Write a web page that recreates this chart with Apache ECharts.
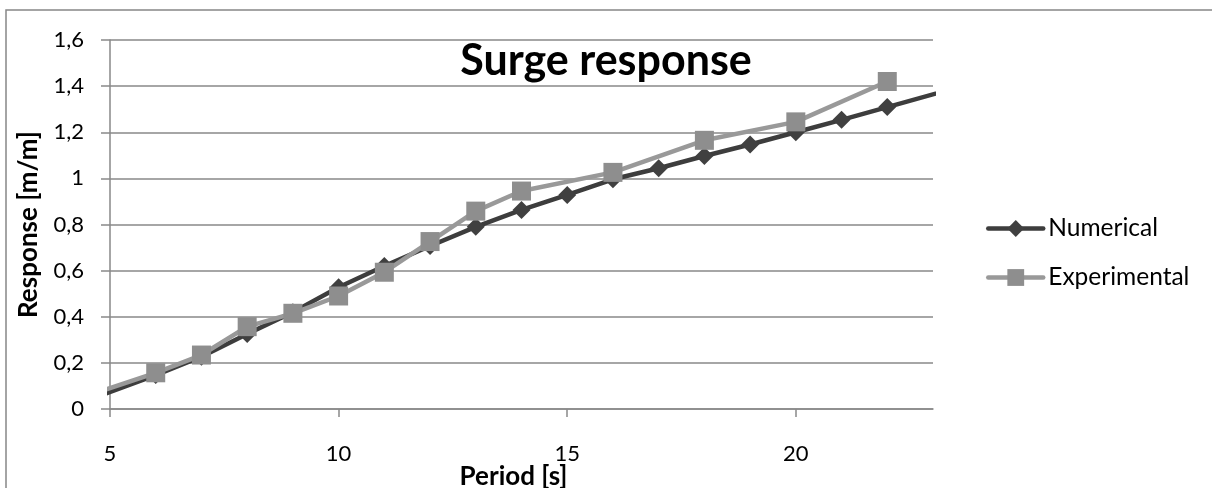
<!DOCTYPE html>
<html>
<head>
<meta charset="utf-8">
<title>Surge response</title>
<script src="https://cdn.jsdelivr.net/npm/echarts@6/dist/echarts.min.js"></script>
<style>
  html, body { margin: 0; padding: 0; background: #ffffff; }
  #chart { width: 1212px; height: 488px; }
</style>
</head>
<body>
<div id="chart"></div>
<script>
// Surge response per wave period: numerical model vs. experiment
const numericalPeriod = [4, 6, 7, 8, 9, 10, 11, 12, 13, 14, 15, 16, 17, 18, 19, 20, 21, 22, 24];
const numericalResponse = [0.0, 0.147, 0.227, 0.325, 0.42, 0.528, 0.62, 0.707, 0.79, 0.863, 0.928, 0.996, 1.044, 1.097, 1.147, 1.2, 1.254, 1.309, 1.42];

const experimentalPeriod = [4, 6, 7, 8, 9, 10, 11, 12, 13, 14, 16, 18, 20, 22];
const experimentalResponse = [0.025, 0.157, 0.234, 0.357, 0.415, 0.49, 0.593, 0.726, 0.858, 0.945, 1.026, 1.165, 1.245, 1.42];

const periodTicks = [5, 10, 15, 20];
const seriesNames = ['Numerical', 'Experimental'];

const FONT = 'Lato, "Open Sans", sans-serif';
const GRID_GREY = '#898989';

function pairs(xs, ys) {
  return xs.map((x, i) => [x, ys[i]]);
}

// Decimal comma, e.g. 0.2 -> "0,2"
function commaLabel(v) {
  const r = Math.round(v * 10) / 10;
  return String(r).replace('.', ',');
}

const chart = echarts.init(document.getElementById('chart'), null, { renderer: 'canvas' });

chart.setOption({
  animation: false,
  backgroundColor: '#ffffff',
  textStyle: { fontFamily: FONT },
  title: {
    text: 'Surge response',
    left: 'center',
    top: 35,
    textStyle: { fontFamily: FONT, fontWeight: 'bold', fontSize: 43, color: '#000000' }
  },
  graphic: [{
    type: 'rect',
    shape: { x: 6, y: 10, width: 1400, height: 600 },
    style: { fill: 'none', stroke: '#878787', lineWidth: 1.5 },
    silent: true,
    z: -1
  }],
  legend: {
    orient: 'vertical',
    left: 981,
    top: 211,
    itemWidth: 55,
    itemHeight: 21,
    itemGap: 24,
    lineStyle: { width: 4.5, cap: 'round' },
    textStyle: { fontFamily: FONT, fontSize: 24.5, color: '#000000' },
    data: seriesNames
  },
  grid: { left: 110, top: 40, right: 279, bottom: 79, outerBoundsMode: 'none' },
  xAxis: {
    type: 'value',
    min: 5,
    max: 23,
    interval: 5,
    name: 'Period [s]',
    nameLocation: 'middle',
    nameGap: 55,
    nameMoveOverlap: false,
    nameTextStyle: { fontFamily: FONT, fontWeight: 'bold', fontSize: 26, color: '#000000', padding: [0, 16, 0, 0] },
    axisLine: { show: true, lineStyle: { color: GRID_GREY, width: 1.5 } },
    axisTick: { show: true, inside: false, length: 8, customValues: periodTicks, lineStyle: { color: GRID_GREY, width: 1.5 } },
    axisLabel: { customValues: periodTicks, margin: 34, fontFamily: FONT, fontSize: 22, color: '#000000' },
    splitLine: { show: false }
  },
  yAxis: {
    type: 'value',
    min: 0,
    max: 1.6,
    interval: 0.2,
    name: 'Response [m/m]',
    nameLocation: 'middle',
    nameRotate: 90,
    nameGap: 68,
    nameMoveOverlap: false,
    nameTextStyle: { fontFamily: FONT, fontWeight: 'bold', fontSize: 26, color: '#000000' },
    axisLine: { show: true, lineStyle: { color: GRID_GREY, width: 1.5 } },
    axisTick: { show: true, inside: false, length: 9, lineStyle: { color: GRID_GREY, width: 1.5 } },
    axisLabel: { formatter: commaLabel, margin: 26, fontFamily: FONT, fontSize: 22, color: '#000000' },
    splitLine: { show: true, lineStyle: { color: GRID_GREY, width: 1.5 } }
  },
  series: [
    {
      name: seriesNames[0],
      type: 'line',
      data: pairs(numericalPeriod, numericalResponse),
      symbol: 'diamond',
      symbolSize: 18,
      showAllSymbol: true,
      clip: true,
      lineStyle: { color: '#3d3d3d', width: 4.5, cap: 'round', join: 'round' },
      itemStyle: { color: '#404040' },
      z: 2
    },
    {
      name: seriesNames[1],
      type: 'line',
      data: pairs(experimentalPeriod, experimentalResponse),
      symbol: 'rect',
      symbolSize: 19,
      showAllSymbol: true,
      clip: true,
      lineStyle: { color: '#999999', width: 4.5, cap: 'round', join: 'round' },
      itemStyle: { color: '#8e8e8e' },
      z: 3
    }
  ]
});
</script>
</body>
</html>
